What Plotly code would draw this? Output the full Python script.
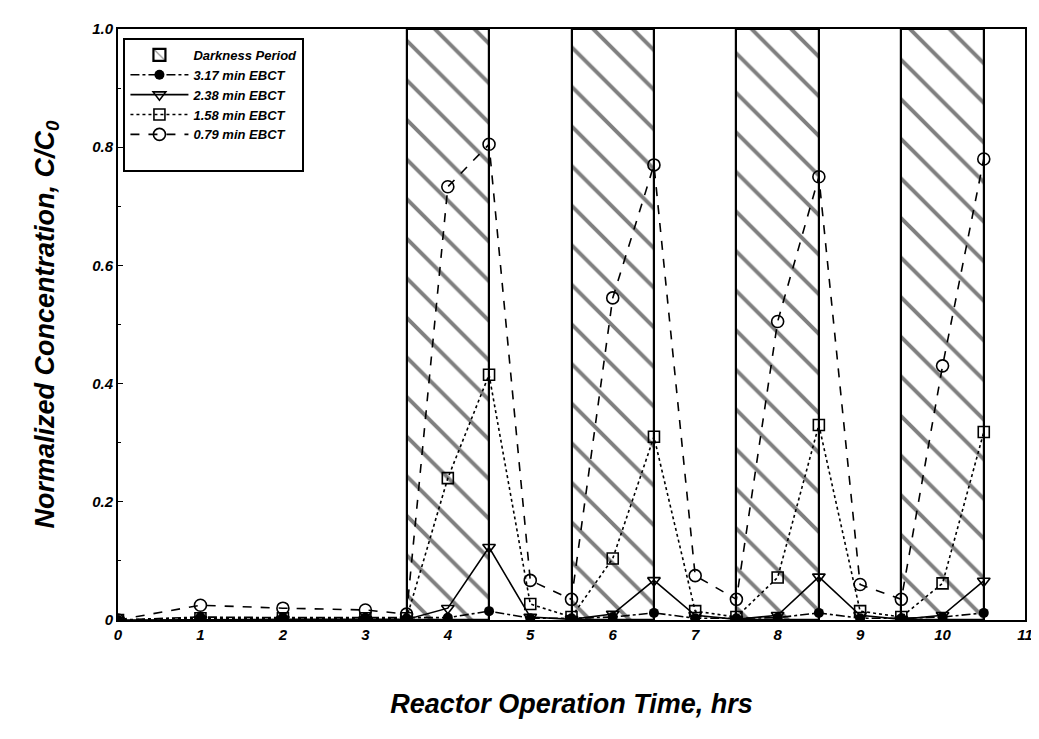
import plotly.graph_objects as go

# ---- data ----
time_hrs = [0, 1, 2, 3, 3.5, 4, 4.5, 5, 5.5, 6, 6.5, 7, 7.5, 8, 8.5, 9, 9.5, 10, 10.5]
ebct_317 = [0, 0.005, 0.004, 0.004, 0.003, 0.004, 0.015, 0.003, 0.003, 0.005, 0.012, 0.003, 0.003, 0.004, 0.012, 0.003, 0.003, 0.005, 0.012]
ebct_238 = [0, 0.001, 0.001, 0.001, 0.001, 0.020, 0.123, 0.005, 0.001, 0.010, 0.067, 0.008, 0.001, 0.008, 0.073, 0.008, 0.001, 0.008, 0.066]
ebct_158 = [0, 0.003, 0.003, 0.003, 0.003, 0.240, 0.415, 0.027, 0.005, 0.104, 0.310, 0.015, 0.005, 0.072, 0.330, 0.015, 0.005, 0.062, 0.318]
ebct_079 = [0, 0.025, 0.020, 0.017, 0.010, 0.733, 0.805, 0.067, 0.035, 0.545, 0.770, 0.075, 0.035, 0.505, 0.750, 0.060, 0.035, 0.430, 0.780]

dark_start = [3.5, 5.5, 7.5, 9.5]
dark_end = [4.5, 6.5, 8.5, 10.5]
dark_level = [1.0, 1.0, 1.0, 1.0]

x_ticks = list(range(0, 12))
y_ticks = [0, 0.2, 0.4, 0.6, 0.8, 1.0]
y_tick_labels = ["0", "0.2", "0.4", "0.6", "0.8", "1.0"]

series = [
    ("3.17 min EBCT", ebct_317, "dashdot", dict(symbol="circle", size=10, color="black")),
    ("2.38 min EBCT", ebct_238, "solid", dict(symbol="triangle-down-open", size=11, color="black", line=dict(width=1.6, color="black"))),
    ("1.58 min EBCT", ebct_158, "dot", dict(symbol="square-open", size=11, color="black", line=dict(width=1.6, color="black"))),
    ("0.79 min EBCT", ebct_079, "dash", dict(symbol="circle-open", size=12, color="black", line=dict(width=1.6, color="black"))),
]

FONT = "Liberation Sans"
L_MARGIN, R_MARGIN = 110, 22
PLOT_W = 1039 - L_MARGIN - R_MARGIN

fig = go.Figure()

centers = [(s + e) / 2 for s, e in zip(dark_start, dark_end)]
widths = [e - s for s, e in zip(dark_start, dark_end)]
fig.add_trace(go.Bar(
    x=centers, y=dark_level, width=widths, name="Darkness Period",
    marker=dict(color="white",
                pattern=dict(shape="\\", fgcolor="black", bgcolor="white", size=28, solidity=0.14),
                line=dict(color="black", width=2.2)),
))

for name, vals, dash, mk in series:
    fig.add_trace(go.Scatter(
        x=time_hrs, y=vals, name=name, mode="lines+markers",
        line=dict(color="black", width=1.6, dash=dash),
        marker=mk,
    ))

# empty legend row, only to give the legend box its extra bottom padding
fig.add_trace(go.Scatter(x=[None], y=[None], name=" ", mode="markers",
                         marker=dict(size=1, color="rgba(0,0,0,0)"), hoverinfo="skip"))

bi = dict(family=FONT, color="black", weight="bold", style="italic")

fig.update_layout(
    width=1039, height=739,
    margin=dict(l=L_MARGIN, r=R_MARGIN, t=13, b=127),
    plot_bgcolor="white", paper_bgcolor="white",
    showlegend=True,
    bargap=0,
    legend=dict(x=0.006, y=0.985, xanchor="left", yanchor="top",
                bordercolor="black", borderwidth=2, bgcolor="white",
                font=dict(size=13, **bi), tracegroupgap=0, itemwidth=58),
    xaxis=dict(range=[0, 11], tickvals=x_ticks, ticks="inside", ticklen=5,
               tickcolor="black", showline=True, linecolor="black", linewidth=2,
               mirror=True, showgrid=False, zeroline=False,
               tickfont=dict(size=15, **bi),
               title=dict(text="Reactor Operation Time, hrs", font=dict(size=27, **bi), standoff=52)),
    yaxis=dict(range=[0, 1], tickvals=y_ticks, ticktext=y_tick_labels, ticks="inside", ticklen=5,
               tickcolor="black", showline=True, linecolor="black", linewidth=2,
               mirror=True, showgrid=False, zeroline=False,
               minor=dict(dtick=0.1, ticks="inside", ticklen=3, tickcolor="black"),
               tickfont=dict(size=15, **bi)),
    annotations=[dict(text="Normalized Concentration, C/C<sub>0</sub>", textangle=-90,
                      xref="paper", yref="paper", x=(38 - L_MARGIN) / PLOT_W, y=0.5,
                      xanchor="center", yanchor="middle", showarrow=False,
                      font=dict(size=27, **bi))],
)

fig.write_html("out.html")
